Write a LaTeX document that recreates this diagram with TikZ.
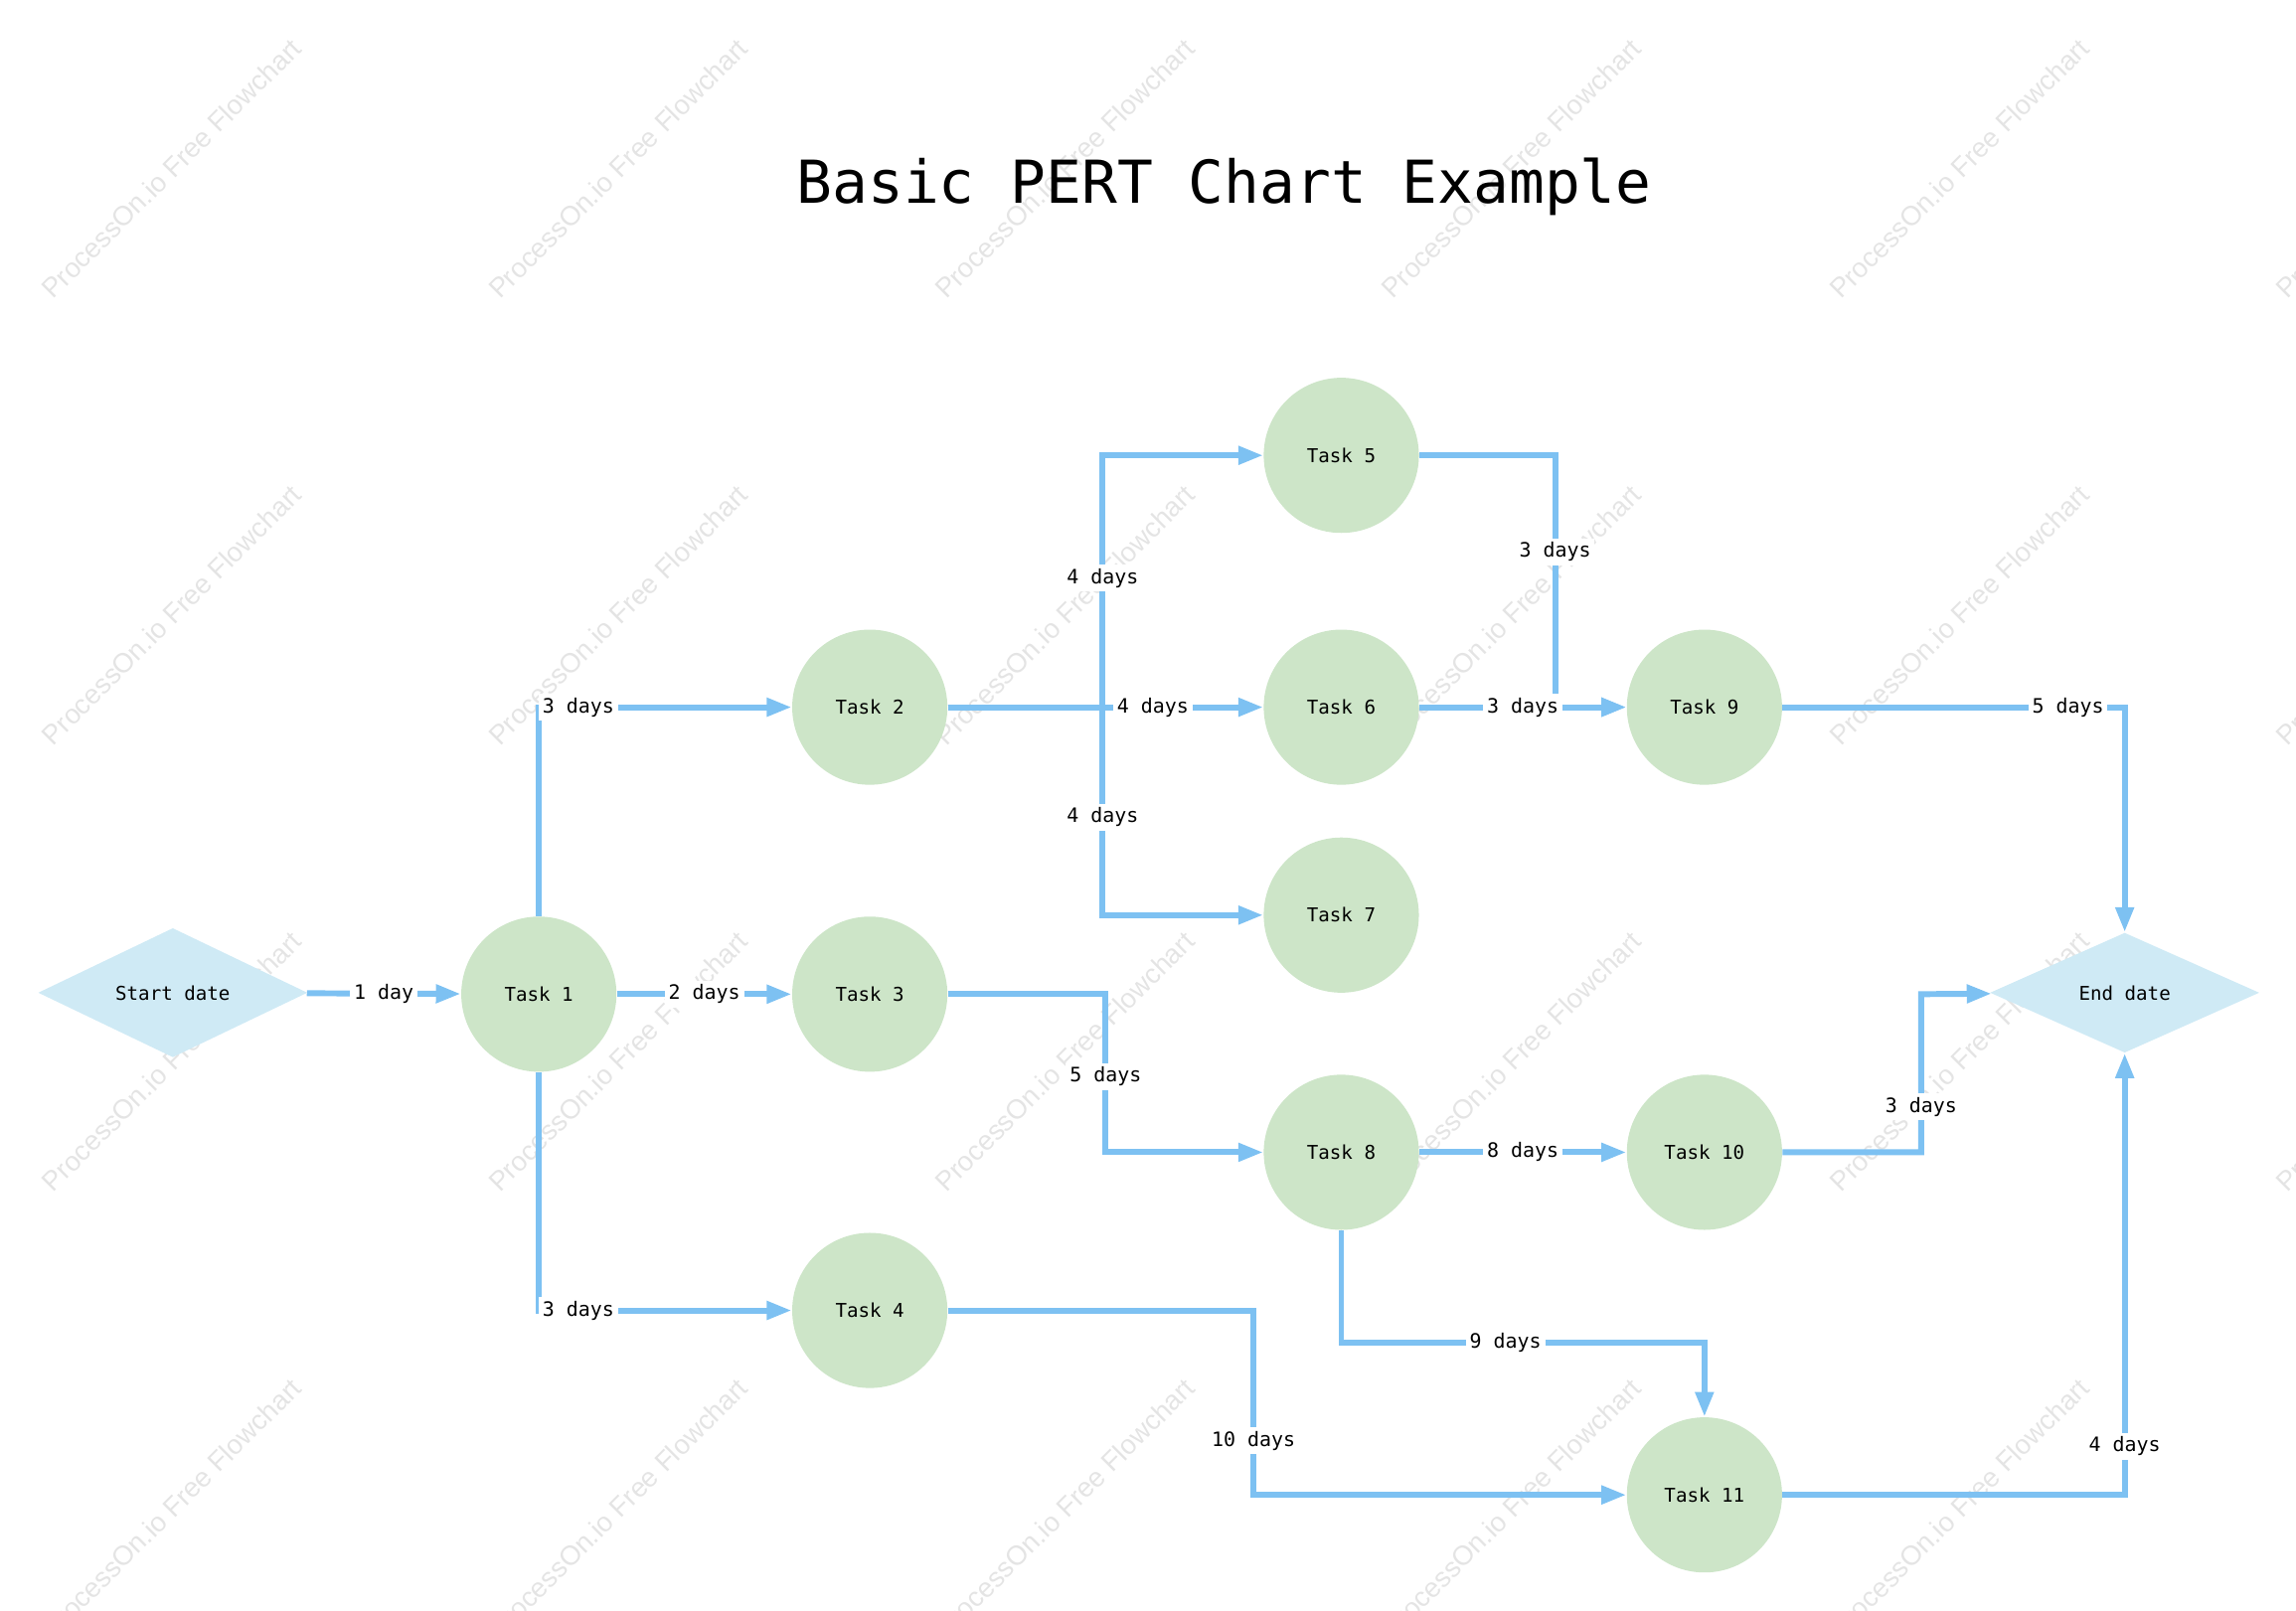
\documentclass[tikz,border=0pt]{standalone}
\usepackage{fontspec}
\setmainfont{DejaVu Sans Mono}
\newfontfamily\wmfont{Liberation Sans}
\usetikzlibrary{arrows.meta, shapes.geometric}
\definecolor{flowblue}{HTML}{7DC1F2}
\definecolor{taskgreen}{HTML}{CDE5C8}
\definecolor{dateblue}{HTML}{CFEAF5}
\definecolor{wmgray}{HTML}{E4E4E4}

\begin{document}
\begin{tikzpicture}[x=0.02cm, y=-0.02cm,
  task/.style={circle, fill=taskgreen, minimum size=2.12cm, inner sep=0pt, font=\fontsize{7.4}{9}\selectfont},
  datebox/.style={diamond, fill=dateblue, minimum width=3.68cm, minimum height=1.64cm, inner sep=0pt, font=\fontsize{7.4}{9}\selectfont},
  flow/.style={draw=flowblue, line width=2.3pt, -{Triangle[length=0.34cm, width=0.24cm]}},
  lbl/.style={fill=white, inner sep=1.5pt, font=\fontsize{7.7}{9}\selectfont},
  wm/.style={rotate=45, text=wmgray, font=\wmfont\fontsize{10.6}{12}\selectfont}]
\useasboundingbox (0,0) rectangle (1568,1100.3);
\clip (0,0) rectangle (1568,1100.3);
\foreach \x in {117,422,727,1032,1338,1643}
  \foreach \y in {115,420,725,1030}
    \node[wm] (wm-\x-\y) at (\x,\y) {ProcessOn.io Free Flowchart};

\node[anchor=base, font=\fontsize{23}{28}\selectfont] (title) at (836,139) {Basic PERT Chart Example};

\node[datebox] (start) at (118,678) {Start date};
\node[task] (t1) at (368,679) {Task 1};
\node[task] (t2) at (594,483) {Task 2};
\node[task] (t3) at (594,679) {Task 3};
\node[task] (t4) at (594,895) {Task 4};
\node[task] (t5) at (916,311) {Task 5};
\node[task] (t6) at (916,483) {Task 6};
\node[task] (t7) at (916,625) {Task 7};
\node[task] (t8) at (916,787) {Task 8};
\node[task] (t9) at (1164,483) {Task 9};
\node[task] (t10) at (1164,787) {Task 10};
\node[task] (t11) at (1164,1021) {Task 11};
\node[datebox] (end) at (1451,678) {End date};

\coordinate (j2) at (753,483);
\coordinate (j3) at (755,679);
\coordinate (j4) at (856,895);
\coordinate (j5) at (1062,483);
\coordinate (j8) at (916,917);
\coordinate (j10) at (1312,679);

\draw[flow] (start) -- node[lbl] (d1) {1 day} (t1);
\draw[flow] (t1) |- node[lbl, pos=0.578] (d12) {3 days} (t2);
\draw[flow] (t1) -- node[lbl] (d13) {2 days} (t3);
\draw[flow] (t1) |- node[lbl, pos=0.578] (d14) {3 days} (t4);
\draw[flow] (t2) -- node[lbl, pos=0.65] (d26) {4 days} (t6);
\draw[flow] (t2.east) -- (j2) |- node[lbl, pos=0.256] (d25) {4 days} (t5);
\draw[flow] (t2.east) -- (j2) |- node[lbl, pos=0.264] (d27) {4 days} (t7);
\draw[flow] (t3.east) -- (j3) |- node[lbl, pos=0.26] (d38) {5 days} (t8);
\draw[flow] (t4.east) -- (j4) |- node[lbl, pos=0.353] (d411) {10 days} (t11);
\draw[flow] (t5) -| node[lbl, pos=0.692] (d59) {3 days} (j5) -- (t9);
\draw[flow] (t6) -- node[lbl] (d69) {3 days} (t9);
\draw[flow] (t9) -| node[lbl, pos=0.417] (d9e) {5 days} (end);
\draw[flow] (t8) -- node[lbl] (d810) {8 days} (t10);
\draw[flow] (t10) -| node[lbl, pos=0.644] (d10e) {3 days} (j10) -- (end);
\draw[flow] (t8.south) -- (j8) -| node[lbl, pos=0.226] (d811) {9 days} (t11);
\draw[flow] (t11) -| node[lbl, pos=0.555] (d11e) {4 days} (end);
\end{tikzpicture}
\end{document}
